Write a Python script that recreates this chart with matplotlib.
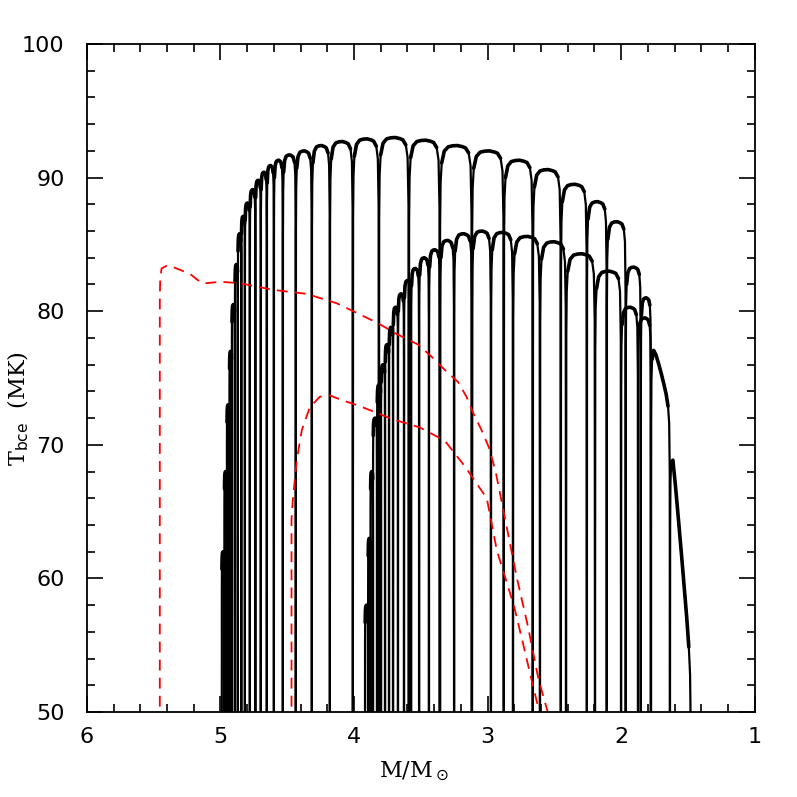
import numpy as np
import matplotlib.pyplot as plt
from matplotlib.ticker import MultipleLocator

# thermal pulses of the first model: pulse masses (M/Msun) and interpulse peak T (MK)
m1_pulses = [4.990, 4.971, 4.952, 4.933, 4.915, 4.892, 4.870, 4.844, 4.817, 4.780,
             4.739, 4.698, 4.653, 4.600, 4.533, 4.436, 4.316, 4.181, 4.009, 3.814,
             3.590, 3.358, 3.118, 2.879, 2.662, 2.452, 2.257, 2.108, 1.966, 1.853, 1.778]
t1_peaks = [62.0, 68.0, 73.0, 77.0, 80.5, 83.5, 85.8, 87.1, 88.1, 89.1,
            89.8, 90.4, 90.9, 91.3, 91.7, 92.0, 92.4, 92.7, 92.9, 93.0,
            92.8, 92.4, 92.0, 91.3, 90.6, 89.5, 88.2, 86.7, 83.3, 81.0]
t1_decline = [0.0] * 30

# second model
m2_pulses = [3.918, 3.895, 3.877, 3.858, 3.828, 3.798, 3.768, 3.738, 3.708, 3.671,
             3.626, 3.573, 3.513, 3.439, 3.356, 3.251, 3.117, 2.975, 2.810, 2.608,
             2.413, 2.196, 2.001, 1.874, 1.777, 1.635, 1.478]
t2_peaks = [58.0, 63.0, 68.0, 72.0, 74.5, 76.0, 77.5, 78.8, 80.3, 81.3,
            82.3, 83.2, 84.0, 84.6, 85.3, 85.8, 86.0, 85.9, 85.6, 85.2,
            84.3, 83.0, 80.3, 79.5, 77.7, 70.0]
t2_decline = [0.0] * 24 + [4.8, 16.4]

# profile of one interpulse (fraction of interval, MK below the peak)
arch_u = [0.01, 0.025, 0.06, 0.14, 0.26, 0.40, 0.55, 0.70, 0.80, 0.90, 0.96, 0.99]
arch_dt = [6.0, 2.8, 1.3, 0.42, 0.10, 0.02, 0.0, 0.08, 0.17, 0.55, 1.5, 5.0]

# HBB limit curves (red dashed)
red1_m = [5.454, 5.454, 5.451, 5.441, 5.403, 5.354, 5.229, 5.141, 5.104, 5.004, 4.855,
          4.606, 4.356, 4.131, 3.944, 3.820, 3.682, 3.520, 3.420, 3.320, 3.221,
          3.158, 3.109, 3.050, 2.990, 2.940, 2.900, 2.850, 2.780, 2.700, 2.620, 2.550, 2.530]
red1_t = [45.0, 81.0, 82.4, 83.2, 83.4, 83.3, 82.8, 82.1, 82.1, 82.2, 82.1,
          81.6, 81.3, 80.6, 79.7, 79.1, 78.3, 77.5, 76.6, 75.6, 74.7,
          73.6, 72.4, 71.2, 69.8, 68.0, 66.0, 63.5, 60.0, 56.5, 52.5, 50.0, 49.0]
red2_m = [4.468, 4.468, 4.458, 4.428, 4.391, 4.331, 4.256, 4.181, 4.106, 3.957, 3.857,
          3.707, 3.507, 3.320, 3.171, 3.006, 2.931, 2.804, 2.734, 2.659, 2.622, 2.610]
red2_t = [45.0, 64.4, 65.9, 68.9, 71.1, 72.8, 73.6, 73.7, 73.4, 72.9, 72.5,
          71.9, 71.3, 70.3, 68.4, 66.0, 62.1, 58.0, 55.1, 51.9, 50.4, 49.0]


def pulse_track(pulses, peaks, decline):
    xs, ys, tops = [], [], []
    u = np.array(arch_u)
    for i in range(len(peaks)):
        a, b = pulses[i], pulses[i + 1]
        t = peaks[i] - np.array(arch_dt) - decline[i] * np.clip((u - 0.1) / 0.9, 0, 1)
        xm = a + (b - a) * u
        xs += [a] + list(xm) + [b]
        ys += [45.0] + list(t) + [45.0]
        tops.append((xm[2:-2], t[2:-2]))
    return xs, ys, tops


fig = plt.figure(figsize=(7.97, 7.97), dpi=100)
ax = fig.add_axes([0.109, 0.1066, 0.838, 0.8382])

for pulses, peaks, dec in [(m1_pulses, t1_peaks, t1_decline), (m2_pulses, t2_peaks, t2_decline)]:
    x, y, tops = pulse_track(pulses, peaks, dec)
    ax.plot(x, y, color='black', lw=1.6, solid_joinstyle='round')
    # interpulse plateaus are noisy in the models, so they print heavier
    for xt, yt in tops:
        ax.plot(xt, yt, color='black', lw=2.6, solid_capstyle='round')

ax.plot(red1_m, red1_t, color='red', lw=1.3, dashes=(6, 4))
ax.plot(red2_m, red2_t, color='red', lw=1.3, dashes=(6, 4))

ax.set_xlim(6, 1)
ax.set_ylim(50, 100)
ax.xaxis.set_major_locator(MultipleLocator(1))
ax.xaxis.set_minor_locator(MultipleLocator(0.2))
ax.yaxis.set_major_locator(MultipleLocator(10))
ax.yaxis.set_minor_locator(MultipleLocator(2))
ax.tick_params(which='both', direction='in', top=True, right=True, width=1.2)
ax.tick_params(which='major', length=11.5, labelsize=16)
ax.tick_params(which='minor', length=6)
ax.tick_params(axis='x', which='major', pad=11)
ax.tick_params(axis='y', which='major', pad=16)
for s in ax.spines.values():
    s.set_linewidth(1.3)

ax.set_xlabel(r'M/M$_\odot$', fontsize=16, family='DejaVu Serif')
ax.set_ylabel(r'T$_{\rm bce}$  (MK)', fontsize=16, family='DejaVu Serif')
ax.xaxis.set_label_coords(0.49, -0.072)
ax.yaxis.set_label_coords(-0.083, 0.455)

fig.savefig('out.png', dpi=100)
